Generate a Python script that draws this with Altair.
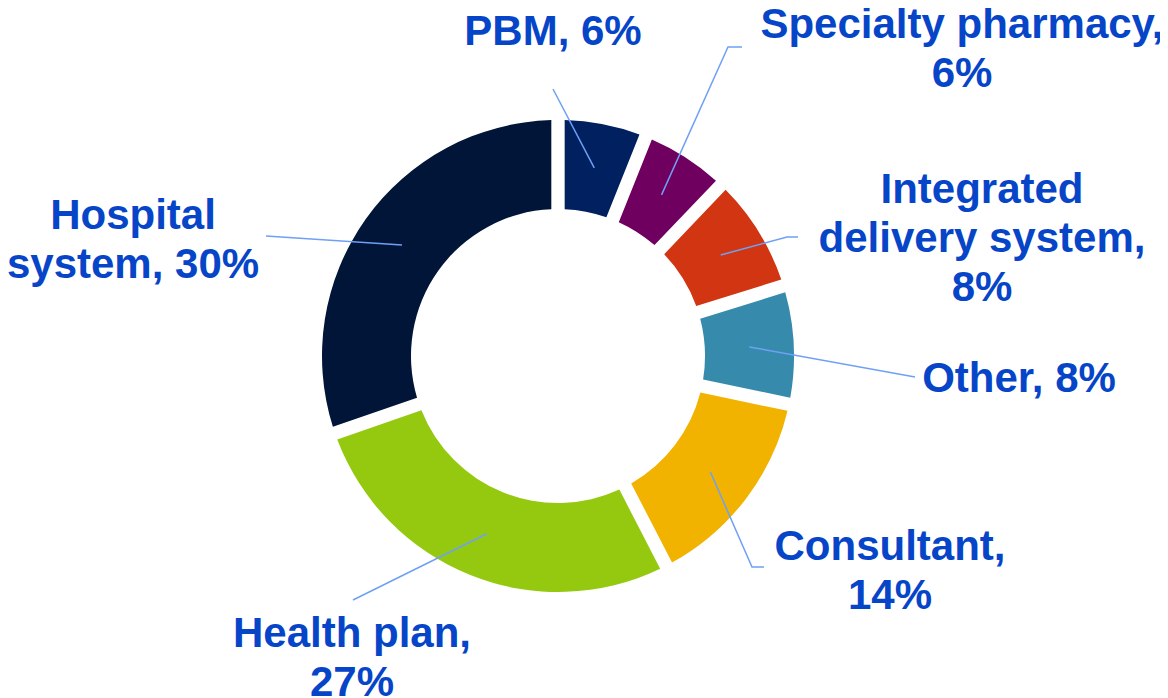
import altair as alt
import pandas as pd
import numpy as np

# ---- data ----
categories = ["PBM", "Specialty pharmacy", "Integrated delivery system", "Other",
              "Consultant", "Health plan", "Hospital system"]
shares = [6, 6, 8, 8, 14, 27, 30]
label_lines = [["PBM, 6%"], ["Specialty pharmacy,", "6%"],
               ["Integrated", "delivery system,", "8%"], ["Other, 8%"],
               ["Consultant,", "14%"], ["Health plan,", "27%"],
               ["Hospital", "system, 30%"]]
colors = ["#002060", "#70005F", "#D13512", "#368BAD", "#F2B200", "#95C90F", "#001537"]

# ---- layout (page pixels) ----
PAD = 8
OFF = 8 + PAD
CX, CY = 558, 356
R_IN, R_OUT = 147, 236
R_MID = (R_IN + R_OUT) / 2
label_x = [553, 962, 982, 1019, 890, 352, 133]
label_base = [45, 38, 203, 392, 560, 647, 229]
LINE_H = 49
leader_ends = [
    [(553, 89)],
    [(728, 47), (742, 47)],
    [(787, 237), (798, 237)],
    [(915, 377)],
    [(752, 567), (764, 567)],
    [(353, 600)],
    [(266, 236)],
]
TEXT_COLOR = "#0645C8"
LINE_COLOR = "#6FA0F5"

# ---- tables ----
arc_df = pd.DataFrame({"category": categories, "share": shares,
                       "idx": list(range(len(categories)))})

total = sum(shares)
cum = np.cumsum([0] + shares[:-1])
text_rows, line_rows = [], []
for i, cat in enumerate(categories):
    for j, t in enumerate(label_lines[i]):
        text_rows.append({"text": t, "px": label_x[i] - OFF,
                          "py": label_base[i] + j * LINE_H - OFF})
    a = (cum[i] + shares[i] / 2) / total * 2 * np.pi
    pts = [(CX + R_MID * np.sin(a), CY - R_MID * np.cos(a))] + leader_ends[i]
    for k, (x, y) in enumerate(pts):
        line_rows.append({"category": cat, "k": k, "px": x - OFF, "py": y - OFF})
text_df = pd.DataFrame(text_rows)
line_df = pd.DataFrame(line_rows)

arcs = alt.Chart(arc_df).mark_arc(
    innerRadius=R_IN, outerRadius=R_OUT, padAngle=0.048
).encode(
    theta=alt.Theta("share:Q", stack=True),
    order=alt.Order("idx:Q"),
    color=alt.Color("category:N", scale=alt.Scale(domain=categories, range=colors), legend=None),
    x=alt.value(CX - OFF),
    y=alt.value(CY - OFF),
)

leaders = alt.Chart(line_df).mark_line(color=LINE_COLOR, strokeWidth=1.5).encode(
    x=alt.X("px:Q", scale=None, axis=None),
    y=alt.Y("py:Q", scale=None, axis=None),
    detail="category:N",
    order="k:Q",
)

labels = alt.Chart(text_df).mark_text(
    font="Liberation Sans", fontWeight="bold", fontSize=42,
    color=TEXT_COLOR, align="center", baseline="alphabetic"
).encode(
    x=alt.X("px:Q", scale=None, axis=None),
    y=alt.Y("py:Q", scale=None, axis=None),
    text="text:N",
)

chart = alt.layer(arcs, leaders, labels).properties(
    width=1160 - OFF, height=698 - OFF, autosize="none",
    padding={"left": PAD, "top": PAD, "right": 0, "bottom": 0},
    background="white",
).configure_view(stroke=None)

chart.save("out.html", embed_options={"renderer": "svg", "actions": False})
